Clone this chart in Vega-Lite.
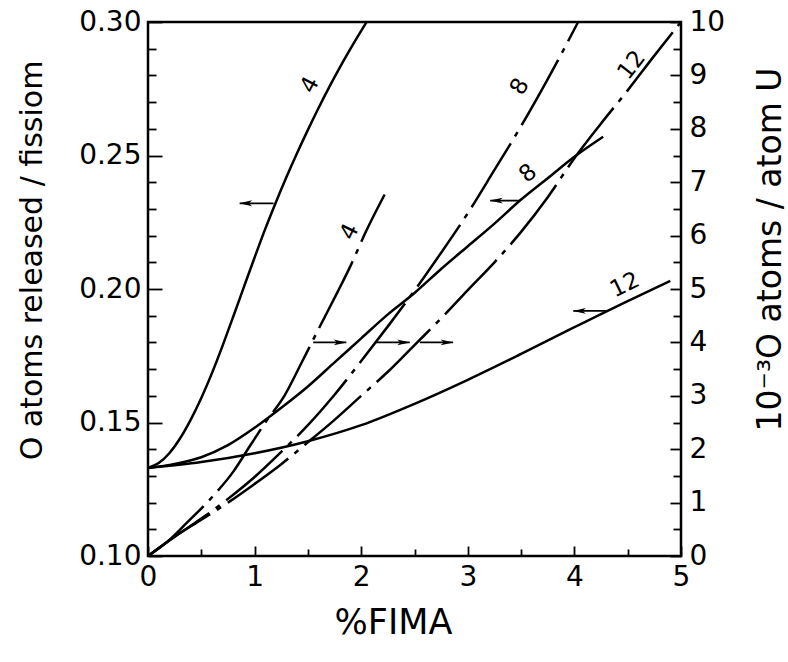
{
  "$schema": "https://vega.github.io/schema/vega-lite/v6.json",
  "width": 533,
  "height": 534,
  "autosize": "none",
  "padding": {"left": 148, "top": 22, "right": 107, "bottom": 106},
  "background": "white",
  "config": {
    "view": {"stroke": "black", "strokeWidth": 2.5},
    "font": "DejaVu Sans",
    "axis": {
      "grid": false,
      "domain": false,
      "zindex": 1,
      "tickColor": "black",
      "tickWidth": 1.8,
      "labelColor": "black",
      "titleColor": "black",
      "labelFont": "DejaVu Sans",
      "titleFont": "DejaVu Sans",
      "labelFontSize": 28,
      "titleFontSize": 30,
      "titleFontWeight": "normal",
      "labelFlush": false,
      "labelOverlap": false
    }
  },
  "datasets": {
    "solid": [
      {"c": "4", "x": 0, "y": 0.133}, {"c": "4", "x": 0.1, "y": 0.1348}, {"c": "4", "x": 0.2, "y": 0.1385},
      {"c": "4", "x": 0.3, "y": 0.144}, {"c": "4", "x": 0.4, "y": 0.151}, {"c": "4", "x": 0.5, "y": 0.1592},
      {"c": "4", "x": 0.6, "y": 0.1685}, {"c": "4", "x": 0.7, "y": 0.1788}, {"c": "4", "x": 0.8, "y": 0.1897},
      {"c": "4", "x": 0.9, "y": 0.2008}, {"c": "4", "x": 1.0, "y": 0.2118}, {"c": "4", "x": 1.1, "y": 0.2225},
      {"c": "4", "x": 1.2, "y": 0.2325}, {"c": "4", "x": 1.3, "y": 0.242}, {"c": "4", "x": 1.4, "y": 0.251},
      {"c": "4", "x": 1.5, "y": 0.2596}, {"c": "4", "x": 1.6, "y": 0.2678}, {"c": "4", "x": 1.7, "y": 0.2756},
      {"c": "4", "x": 1.8, "y": 0.283}, {"c": "4", "x": 1.9, "y": 0.29}, {"c": "4", "x": 2.0, "y": 0.2967},
      {"c": "4", "x": 2.05, "y": 0.3},
      {"c": "8", "x": 0, "y": 0.133}, {"c": "8", "x": 0.25, "y": 0.1345}, {"c": "8", "x": 0.5, "y": 0.137},
      {"c": "8", "x": 0.75, "y": 0.1415}, {"c": "8", "x": 1.0, "y": 0.148}, {"c": "8", "x": 1.25, "y": 0.1555},
      {"c": "8", "x": 1.5, "y": 0.1635}, {"c": "8", "x": 1.75, "y": 0.1725}, {"c": "8", "x": 2.0, "y": 0.1815},
      {"c": "8", "x": 2.25, "y": 0.1905}, {"c": "8", "x": 2.5, "y": 0.1985}, {"c": "8", "x": 2.75, "y": 0.2075},
      {"c": "8", "x": 3.0, "y": 0.216}, {"c": "8", "x": 3.25, "y": 0.2245}, {"c": "8", "x": 3.5, "y": 0.2335},
      {"c": "8", "x": 3.75, "y": 0.2415}, {"c": "8", "x": 4.0, "y": 0.2495}, {"c": "8", "x": 4.27, "y": 0.257},
      {"c": "12", "x": 0, "y": 0.133}, {"c": "12", "x": 0.5, "y": 0.1352}, {"c": "12", "x": 1.0, "y": 0.1385},
      {"c": "12", "x": 1.5, "y": 0.143}, {"c": "12", "x": 2.0, "y": 0.149}, {"c": "12", "x": 2.5, "y": 0.157},
      {"c": "12", "x": 3.0, "y": 0.166}, {"c": "12", "x": 3.5, "y": 0.1757}, {"c": "12", "x": 4.0, "y": 0.1857},
      {"c": "12", "x": 4.5, "y": 0.1955}, {"c": "12", "x": 4.9, "y": 0.203}
    ],
    "dashdot": [
      {"c": "4", "x": 0, "y": 0}, {"c": "4", "x": 0.2, "y": 0.3}, {"c": "4", "x": 0.358, "y": 0.61},
      {"c": "4", "x": 0.6, "y": 1.1}, {"c": "4", "x": 0.8, "y": 1.58}, {"c": "4", "x": 0.953, "y": 2.05},
      {"c": "4", "x": 1.1, "y": 2.5}, {"c": "4", "x": 1.282, "y": 3.01}, {"c": "4", "x": 1.438, "y": 3.61},
      {"c": "4", "x": 1.6, "y": 4.25}, {"c": "4", "x": 1.78, "y": 4.95}, {"c": "4", "x": 1.892, "y": 5.4},
      {"c": "4", "x": 2.05, "y": 6.1}, {"c": "4", "x": 2.22, "y": 6.77},
      {"c": "8", "x": 0, "y": 0}, {"c": "8", "x": 0.25, "y": 0.36}, {"c": "8", "x": 0.5, "y": 0.7},
      {"c": "8", "x": 0.75, "y": 1.07}, {"c": "8", "x": 1.0, "y": 1.48}, {"c": "8", "x": 1.25, "y": 1.95},
      {"c": "8", "x": 1.5, "y": 2.45}, {"c": "8", "x": 1.75, "y": 3.02}, {"c": "8", "x": 2.0, "y": 3.65},
      {"c": "8", "x": 2.25, "y": 4.3}, {"c": "8", "x": 2.5, "y": 4.97}, {"c": "8", "x": 2.75, "y": 5.68},
      {"c": "8", "x": 3.0, "y": 6.42}, {"c": "8", "x": 3.25, "y": 7.23}, {"c": "8", "x": 3.5, "y": 8.05},
      {"c": "8", "x": 3.75, "y": 8.93}, {"c": "8", "x": 4.035, "y": 10},
      {"c": "12", "x": 0, "y": 0}, {"c": "12", "x": 0.25, "y": 0.36}, {"c": "12", "x": 0.5, "y": 0.68},
      {"c": "12", "x": 0.75, "y": 1.0}, {"c": "12", "x": 1.0, "y": 1.35}, {"c": "12", "x": 1.25, "y": 1.72},
      {"c": "12", "x": 1.5, "y": 2.13}, {"c": "12", "x": 1.75, "y": 2.55}, {"c": "12", "x": 2.0, "y": 3.0},
      {"c": "12", "x": 2.25, "y": 3.45}, {"c": "12", "x": 2.5, "y": 3.95}, {"c": "12", "x": 2.75, "y": 4.45},
      {"c": "12", "x": 3.0, "y": 4.98}, {"c": "12", "x": 3.25, "y": 5.5}, {"c": "12", "x": 3.5, "y": 6.07},
      {"c": "12", "x": 3.75, "y": 6.72}, {"c": "12", "x": 4.0, "y": 7.45}, {"c": "12", "x": 4.25, "y": 8.1},
      {"c": "12", "x": 4.5, "y": 8.72}, {"c": "12", "x": 4.75, "y": 9.37}, {"c": "12", "x": 5.0, "y": 10.0}
    ],
    "arrowsL": [
      {"x": 1.178, "x2": 0.86, "y": 0.2321},
      {"x": 3.49, "x2": 3.21, "y": 0.2331},
      {"x": 4.3, "x2": 3.99, "y": 0.1918}
    ],
    "arrowsR": [
      {"x": 1.55, "x2": 1.86, "y": 4.0},
      {"x": 2.14, "x2": 2.455, "y": 4.0},
      {"x": 2.55, "x2": 2.862, "y": 4.0}
    ],
    "labelsL": [
      {"c": "4", "x": 1.52, "y": 0.2764},
      {"c": "8", "x": 3.566, "y": 0.2433},
      {"c": "12", "x": 4.474, "y": 0.2015}
    ],
    "labelsR": [
      {"c": "4", "x": 1.892, "y": 6.07},
      {"c": "8", "x": 3.488, "y": 8.79},
      {"c": "12", "x": 4.537, "y": 9.19}
    ]
  },
  "layer": [
    {
      "encoding": {
        "x": {
          "field": "x", "type": "quantitative", "title": "%FIMA",
          "scale": {"domain": [0, 5], "nice": false},
          "axis": {
            "orient": "bottom",
            "values": [0, 0.5, 1, 1.5, 2, 2.5, 3, 3.5, 4, 4.5, 5],
            "labelExpr": "datum.value % 1 == 0 ? '' + datum.value : ''",
            "tickSize": {"condition": {"test": "datum.value % 1 == 0", "value": -10}, "value": -7},
            "labelPadding": 17,
            "titleFontSize": 35,
            "titleX": 245,
            "titleY": 66,
            "titleAlign": "center",
            "titleBaseline": "middle"
          }
        },
        "y": {
          "field": "y", "type": "quantitative", "title": "O atoms released / fissiom",
          "scale": {"domain": [0.1, 0.3], "nice": false, "zero": false},
          "axis": {
            "orient": "left",
            "values": [0.1, 0.11, 0.12, 0.13, 0.14, 0.15, 0.16, 0.17, 0.18, 0.19, 0.2, 0.21, 0.22, 0.23, 0.24, 0.25, 0.26, 0.27, 0.28, 0.29, 0.3],
            "labelExpr": "round(datum.value * 100) % 5 == 0 ? format(datum.value, '.2f') : ''",
            "tickSize": {"condition": {"test": "round(datum.value * 100) % 5 == 0", "value": -14}, "value": -8},
            "labelPadding": 21,
            "titleX": -116,
            "titleY": 238,
            "titleAngle": -90,
            "titleAlign": "center",
            "titleBaseline": "middle"
          }
        }
      },
      "layer": [
        {
          "data": {"name": "solid"},
          "mark": {"type": "line", "color": "black", "strokeWidth": 2.5, "interpolate": "monotone"},
          "encoding": {"detail": {"field": "c"}}
        },
        {
          "data": {"name": "arrowsL"},
          "mark": {"type": "rule", "color": "black", "strokeWidth": 1.8},
          "encoding": {"x2": {"field": "x2"}}
        },
        {
          "data": {"name": "arrowsL"},
          "mark": {"type": "point", "shape": "M-1,0L1,-0.45L0.5,0L1,0.45Z", "filled": true, "color": "black", "opacity": 1, "size": 170, "xOffset": 6},
          "encoding": {"x": {"field": "x2", "type": "quantitative", "title": "%FIMA"}}
        },
        {
          "data": {"name": "labelsL"},
          "transform": [{"filter": "datum.c == '4'"}],
          "mark": {"type": "text", "angle": -62, "fontSize": 23, "color": "black", "font": "DejaVu Sans"},
          "encoding": {"text": {"field": "c"}}
        },
        {
          "data": {"name": "labelsL"},
          "transform": [{"filter": "datum.c == '8'"}],
          "mark": {"type": "text", "angle": -40, "fontSize": 23, "color": "black", "font": "DejaVu Sans"},
          "encoding": {"text": {"field": "c"}}
        },
        {
          "data": {"name": "labelsL"},
          "transform": [{"filter": "datum.c == '12'"}],
          "mark": {"type": "text", "angle": -26, "fontSize": 23, "color": "black", "font": "DejaVu Sans"},
          "encoding": {"text": {"field": "c"}}
        }
      ]
    },
    {
      "encoding": {
        "x": {"field": "x", "type": "quantitative", "title": "%FIMA"},
        "y": {
          "field": "y", "type": "quantitative", "title": "10⁻³O atoms / atom U",
          "scale": {"domain": [0, 10], "nice": false},
          "axis": {
            "orient": "right",
            "values": [0, 0.5, 1, 1.5, 2, 2.5, 3, 3.5, 4, 4.5, 5, 5.5, 6, 6.5, 7, 7.5, 8, 8.5, 9, 9.5, 10],
            "labelExpr": "datum.value % 1 == 0 ? '' + datum.value : ''",
            "tickSize": {"condition": {"test": "datum.value % 1 == 0", "value": -11}, "value": -8},
            "labelPadding": 19,
            "titleFontSize": 33,
            "titleX": 89,
            "titleY": 227,
            "titleAngle": -90,
            "titleAlign": "center",
            "titleBaseline": "middle"
          }
        }
      },
      "layer": [
        {
          "data": {"name": "dashdot"},
          "mark": {"type": "line", "color": "black", "strokeWidth": 2.5, "strokeDash": [75, 8, 5, 8], "interpolate": "monotone"},
          "encoding": {"detail": {"field": "c"}}
        },
        {
          "data": {"name": "arrowsR"},
          "mark": {"type": "rule", "color": "black", "strokeWidth": 1.8},
          "encoding": {"x2": {"field": "x2"}}
        },
        {
          "data": {"name": "arrowsR"},
          "mark": {"type": "point", "shape": "M1,0L-1,-0.45L-0.5,0L-1,0.45Z", "filled": true, "color": "black", "opacity": 1, "size": 170, "xOffset": -6},
          "encoding": {"x": {"field": "x2", "type": "quantitative", "title": "%FIMA"}}
        },
        {
          "data": {"name": "labelsR"},
          "transform": [{"filter": "datum.c == '4'"}],
          "mark": {"type": "text", "angle": -64, "fontSize": 23, "color": "black", "font": "DejaVu Sans"},
          "encoding": {"text": {"field": "c"}}
        },
        {
          "data": {"name": "labelsR"},
          "transform": [{"filter": "datum.c == '8'"}],
          "mark": {"type": "text", "angle": -60, "fontSize": 23, "color": "black", "font": "DejaVu Sans"},
          "encoding": {"text": {"field": "c"}}
        },
        {
          "data": {"name": "labelsR"},
          "transform": [{"filter": "datum.c == '12'"}],
          "mark": {"type": "text", "angle": -52, "fontSize": 23, "color": "black", "font": "DejaVu Sans"},
          "encoding": {"text": {"field": "c"}}
        }
      ]
    }
  ],
  "resolve": {"scale": {"y": "independent"}}
}
